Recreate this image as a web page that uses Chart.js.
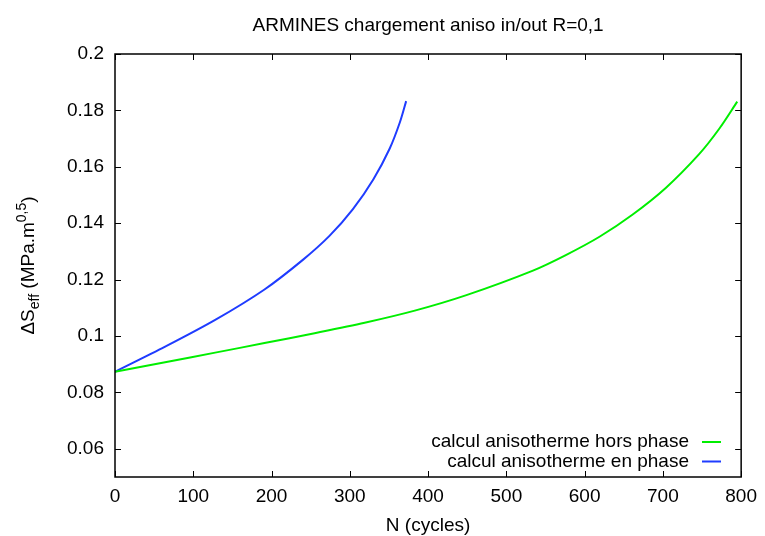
<!DOCTYPE html>
<html>
<head>
<meta charset="utf-8">
<script src="https://cdn.jsdelivr.net/npm/chart.js@4/dist/chart.umd.min.js"></script>
<style>
html,body{margin:0;padding:0;background:#fff;}
#wrap{width:765px;height:536px;position:relative;}
</style>
</head>
<body>
<div id="wrap"><canvas id="c" width="765" height="536"></canvas></div>
<script>
const titleText = "ARMINES chargement aniso in/out R=0,1";
const xLabel = "N (cycles)";
const seriesNames = ["calcul anisotherme hors phase", "calcul anisotherme en phase"];

const greenN = [0, 64, 128, 191, 255, 319, 383, 449, 534, 576, 619, 661, 704, 746, 772, 795];
const greenV = [0.0873, 0.0907, 0.0941, 0.0975, 0.1010, 0.1047, 0.1090, 0.1145, 0.1232, 0.1287, 0.1352, 0.1430, 0.1526, 0.1644, 0.1735, 0.1831];

const blueN = [0, 64, 128, 191, 240, 274, 304, 330, 351, 364, 372];
const blueV = [0.0873, 0.0962, 0.1057, 0.1165, 0.1270, 0.1355, 0.1450, 0.1555, 0.1665, 0.1758, 0.1833];

const xTicks = [0, 100, 200, 300, 400, 500, 600, 700, 800];
const yTicks = [0.06, 0.08, 0.10, 0.12, 0.14, 0.16, 0.18, 0.20];

const FONT = '"Liberation Sans", Arial, Helvetica, sans-serif';
const FS = 19;
const GREEN = '#00ee00';
const BLUE = '#1f3cff';

const toPts = (xs, ys) => xs.map((x, i) => ({x: x, y: ys[i]}));

const decor = {
  id: 'decor',
  afterDraw(chart) {
    const ctx = chart.ctx;
    const a = chart.chartArea;
    const xs = chart.scales.x, ys = chart.scales.y;
    ctx.save();
    ctx.strokeStyle = '#000';
    ctx.lineWidth = 1.5;
    ctx.strokeRect(a.left, a.top, a.right - a.left, a.bottom - a.top);
    ctx.lineWidth = 1;
    const tl = 6;
    ctx.beginPath();
    xTicks.forEach(v => {
      const p = Math.round(xs.getPixelForValue(v)) + 0.5;
      ctx.moveTo(p, a.bottom); ctx.lineTo(p, a.bottom - tl);
      ctx.moveTo(p, a.top); ctx.lineTo(p, a.top + tl);
    });
    yTicks.forEach(v => {
      const p = Math.round(ys.getPixelForValue(v)) + 0.5;
      ctx.moveTo(a.left, p); ctx.lineTo(a.left + tl, p);
      ctx.moveTo(a.right, p); ctx.lineTo(a.right - tl, p);
    });
    ctx.stroke();

    ctx.fillStyle = '#000';
    ctx.font = FS + 'px ' + FONT;
    ctx.textAlign = 'center';
    ctx.textBaseline = 'alphabetic';
    ctx.fillText(titleText, (a.left + a.right) / 2, 31);
    ctx.fillText(xLabel, (a.left + a.right) / 2, 531);

    const rows = [[seriesNames[0], GREEN, 442], [seriesNames[1], BLUE, 461.5]];
    ctx.textAlign = 'right';
    ctx.textBaseline = 'middle';
    rows.forEach(r => {
      ctx.fillStyle = '#000';
      ctx.fillText(r[0], 689, r[2]);
      ctx.strokeStyle = r[1];
      ctx.lineWidth = 2;
      ctx.beginPath();
      ctx.moveTo(702, r[2]); ctx.lineTo(721, r[2]);
      ctx.stroke();
    });

    const parts = [
      ['\u0394S', FS, 0],
      ['eff', 14, 5],
      [' (MPa.m', FS, 0],
      ['0,5', 14, -8],
      [')', FS, 0]
    ];
    let total = 0;
    parts.forEach(p => { ctx.font = p[1] + 'px ' + FONT; total += ctx.measureText(p[0]).width; });
    ctx.translate(34, (a.top + a.bottom) / 2);
    ctx.rotate(-Math.PI / 2);
    ctx.textAlign = 'left';
    ctx.textBaseline = 'alphabetic';
    ctx.fillStyle = '#000';
    let x = -total / 2;
    parts.forEach(p => {
      ctx.font = p[1] + 'px ' + FONT;
      ctx.fillText(p[0], x, p[2]);
      x += ctx.measureText(p[0]).width;
    });
    ctx.restore();
  }
};

new Chart(document.getElementById('c'), {
  type: 'line',
  data: {
    datasets: [
      {label: seriesNames[0], data: toPts(greenN, greenV), borderColor: GREEN, borderWidth: 2, pointRadius: 0, tension: 0.3, fill: false},
      {label: seriesNames[1], data: toPts(blueN, blueV), borderColor: BLUE, borderWidth: 2, pointRadius: 0, tension: 0.3, fill: false}
    ]
  },
  options: {
    responsive: false,
    animation: false,
    events: [],
    layout: {padding: {top: 54, right: 23, left: 0, bottom: 0}},
    plugins: {legend: {display: false}, title: {display: false}, tooltip: {enabled: false}},
    scales: {
      x: {
        type: 'linear', min: 0, max: 800,
        grid: {display: false, drawTicks: false},
        border: {display: false},
        afterBuildTicks: s => { s.ticks = xTicks.map(v => ({value: v})); },
        afterFit: s => { s.height = 59; },
        ticks: {color: '#000', font: {family: FONT, size: FS}, padding: 8, maxRotation: 0, autoSkip: false,
          callback: v => String(v)}
      },
      y: {
        type: 'linear', min: 0.05, max: 0.2,
        grid: {display: false, drawTicks: false},
        border: {display: false},
        afterBuildTicks: s => { s.ticks = yTicks.map(v => ({value: v})); },
        afterFit: s => { s.width = 115; },
        ticks: {color: '#000', font: {family: FONT, size: FS}, padding: 11, autoSkip: false,
          callback: v => String(parseFloat(Number(v).toFixed(2)))}
      }
    }
  },
  plugins: [decor]
});
</script>
</body>
</html>
